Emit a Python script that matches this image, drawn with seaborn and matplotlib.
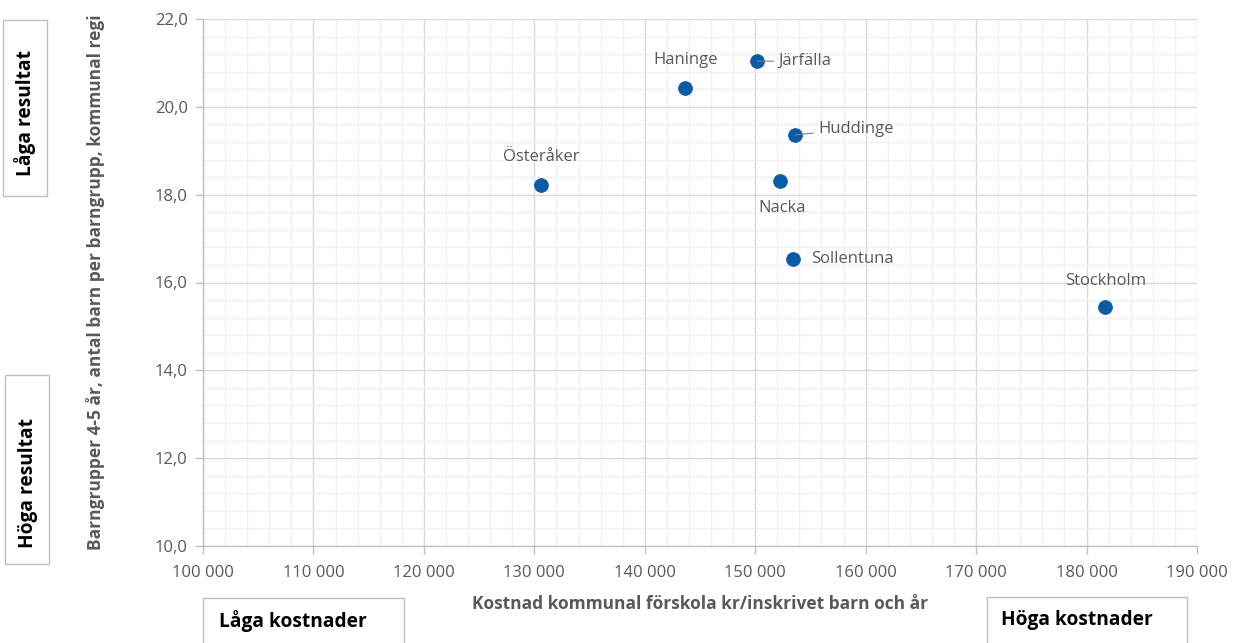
import matplotlib
matplotlib.use("Agg")
import matplotlib.pyplot as plt
import seaborn as sns
import pandas as pd
from matplotlib.ticker import MultipleLocator, FuncFormatter
from matplotlib.patches import Rectangle

kommuner = ["Österåker", "Haninge", "Järfälla", "Huddinge", "Nacka", "Sollentuna", "Stockholm"]
kostnad = [130600, 143600, 150200, 153600, 152200, 153400, 181700]
barngrupp = [18.22, 20.43, 21.04, 19.36, 18.32, 16.53, 15.44]

df = pd.DataFrame({"Kommun": kommuner, "Kostnad": kostnad, "Barngrupp": barngrupp})

sns.set_style("white")
plt.rcParams["font.family"] = ["Open Sans", "DejaVu Sans"]

W, H = 1233, 643
fig = plt.figure(figsize=(W / 100, H / 100), dpi=100)
ax = fig.add_axes([203 / W, 1 - 546 / H, (1197 - 203) / W, (546 - 19) / H])

gray_text = "#595959"
sns.scatterplot(data=df, x="Kostnad", y="Barngrupp", ax=ax, s=100,
                color="#0a5aa6", edgecolor="#0a5aa6", linewidth=0.5, zorder=5)

ax.set_xlim(100000, 190000)
ax.set_ylim(10, 22)
ax.xaxis.set_major_locator(MultipleLocator(10000))
ax.xaxis.set_minor_locator(MultipleLocator(2000))
ax.yaxis.set_major_locator(MultipleLocator(2))
ax.yaxis.set_minor_locator(MultipleLocator(0.4))
ax.xaxis.set_major_formatter(FuncFormatter(lambda v, p: f"{int(round(v)):,}".replace(",", " ")))
ax.yaxis.set_major_formatter(FuncFormatter(lambda v, p: f"{v:.1f}".replace(".", ",")))

ax.grid(which="major", color="#d9d9d9", linewidth=1.0, zorder=0)
ax.grid(which="minor", color="#f0f0f0", linewidth=1.0, zorder=0)
ax.set_axisbelow(True)
for s in ["top", "right"]:
    ax.spines[s].set_visible(False)
for s in ["left", "bottom"]:
    ax.spines[s].set_color("#bfbfbf")
    ax.spines[s].set_linewidth(1.0)
ax.tick_params(which="major", direction="out", length=6, width=1, color="#bfbfbf",
               labelcolor=gray_text, labelsize=12, left=True, bottom=True)
ax.tick_params(axis="x", which="major", pad=8)
ax.tick_params(axis="y", which="major", pad=5)
ax.tick_params(which="minor", length=0)

ax.set_xlabel("Kostnad kommunal förskola kr/inskrivet barn och år", fontsize=12.5,
              fontweight="bold", color=gray_text, va="center")
ax.xaxis.set_label_coords(0.5, (546 - 604) / 527)
ax.set_ylabel("Barngrupper 4-5 år, antal barn per barngrupp, kommunal regi", fontsize=12.5,
              fontweight="bold", color=gray_text, va="center")
ax.yaxis.set_label_coords((95 - 203) / 994, 0.5)

# Data labels
offsets = {
    "Österåker": (0, 20, "center", False),
    "Haninge": (1, 20, "center", False),
    "Järfälla": (15, 0, "left", True),
    "Huddinge": (16.5, 4.5, "left", True),
    "Nacka": (2, -20, "center", False),
    "Sollentuna": (13, 0, "left", False),
    "Stockholm": (0, 19, "center", False),
}
for name, x, y in zip(kommuner, kostnad, barngrupp):
    dx, dy, ha, leader = offsets[name]
    kw = dict(xy=(x, y), xytext=(dx, dy), textcoords="offset points",
              ha=ha, va="center", fontsize=12, color=gray_text, zorder=6)
    if leader:
        kw["arrowprops"] = dict(arrowstyle="-", color="#7f7f7f", lw=0.8, shrinkA=1, shrinkB=0)
    ax.annotate(name, **kw)

# Corner boxes
def box(x0, y0, x1, y1):
    r = Rectangle((x0 / W, 1 - y1 / H), (x1 - x0) / W, (y1 - y0) / H,
                  transform=fig.transFigure, facecolor="white", edgecolor="#bfbfbf",
                  linewidth=1.0, clip_on=False)
    fig.add_artist(r)

box_fs = 13.8
box(3, 20, 47, 196)
fig.text(25 / W, 1 - 113 / H, "Låga resultat", rotation=90, ha="center", va="center",
         fontsize=box_fs, fontweight="bold", color="black")
box(5, 375, 49, 564)
fig.text(28 / W, 1 - 483 / H, "Höga resultat", rotation=90, ha="center", va="center",
         fontsize=box_fs, fontweight="bold", color="black")
box(203, 598, 404, 660)
fig.text(219 / W, 1 - 621 / H, "Låga kostnader", ha="left", va="center",
         fontsize=box_fs, fontweight="bold", color="black")
box(987, 597, 1187, 660)
fig.text(1001 / W, 1 - 620 / H, "Höga kostnader", ha="left", va="center",
         fontsize=box_fs, fontweight="bold", color="black")

fig.savefig("out.png", dpi=100, facecolor="white")
